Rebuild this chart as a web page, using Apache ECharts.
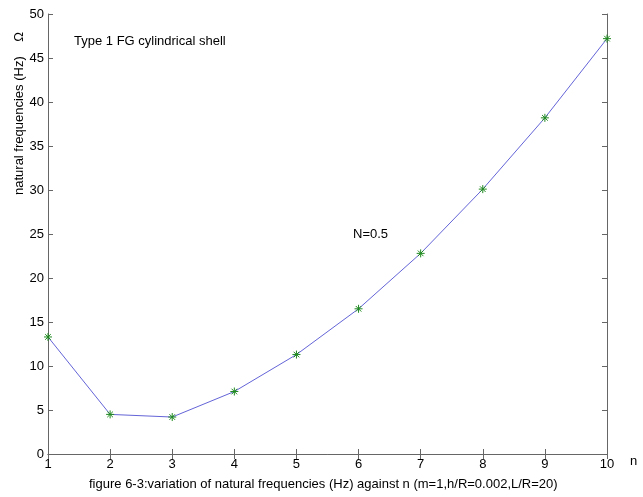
<!DOCTYPE html>
<html>
<head>
<meta charset="utf-8">
<script src="https://cdn.jsdelivr.net/npm/echarts@6/dist/echarts.min.js"></script>
<style>
html, body { margin: 0; padding: 0; background: #fff; }
#chart { width: 643px; height: 497px; }
</style>
</head>
<body>
<div id="chart"></div>
<script>
var myChart = echarts.init(document.getElementById('chart'), null, {renderer: 'canvas'});

// mode number n and natural frequency (Hz)
var nValues = [1, 2, 3, 4, 5, 6, 7, 8, 9, 10];
var freqValues = [13.3, 4.5, 4.2, 7.1, 11.3, 16.5, 22.8, 30.1, 38.2, 47.2];

var FONT = 'Liberation Sans';
var asterisk = 'path://M0 5L10 5M5 0L5 10M1.5 1.5L8.5 8.5M8.5 1.5L1.5 8.5';

var axisCommon = {
    type: 'value',
    axisLine: {show: true, lineStyle: {color: '#666', width: 1}},
    axisTick: {show: true, inside: true, length: 5, lineStyle: {color: '#666'}},
    splitLine: {show: false}
};

option = {
    animation: false,
    backgroundColor: '#fff',
    grid: {left: 48, right: 36, top: 14, bottom: 43},
    xAxis: [
        Object.assign({}, axisCommon, {
            min: 1, max: 10, interval: 1, position: 'bottom',
            axisLabel: {color: '#000', fontFamily: FONT, fontSize: 13, margin: 4}
        }),
        Object.assign({}, axisCommon, {
            min: 1, max: 10, interval: 1, position: 'top',
            axisLabel: {show: false}
        })
    ],
    yAxis: [
        Object.assign({}, axisCommon, {
            min: 0, max: 50, interval: 5, position: 'left',
            axisLabel: {color: '#000', fontFamily: FONT, fontSize: 13, margin: 4}
        }),
        Object.assign({}, axisCommon, {
            min: 0, max: 50, interval: 5, position: 'right',
            axisLabel: {show: false}
        })
    ],
    graphic: [
        {type: 'text', left: 74, top: 35,
         style: {text: 'Type 1 FG cylindrical shell', fill: '#000', font: '13px ' + FONT}},
        {type: 'text', left: 353, top: 228,
         style: {text: 'N=0.5', fill: '#000', font: '13px ' + FONT}},
        {type: 'text', left: 630, top: 455,
         style: {text: 'n', fill: '#000', font: '13px ' + FONT}},
        {type: 'text', left: 89, top: 478,
         style: {text: 'figure 6-3:variation of natural frequencies (Hz) against n (m=1,h/R=0.002,L/R=20)',
                 fill: '#000', font: '13px ' + FONT}},
        {type: 'text', x: 13, y: 195, rotation: Math.PI / 2,
         style: {text: 'natural frequencies (Hz)    \u03a9', fill: '#000', font: '13px ' + FONT}}
    ],
    series: [{
        type: 'line',
        data: nValues.map(function (n, i) { return [n, freqValues[i]]; }),
        lineStyle: {color: '#6464d8', width: 1},
        symbol: asterisk,
        symbolSize: 8,
        showAllSymbol: true,
        itemStyle: {color: 'transparent', borderColor: '#1f8a1f', borderWidth: 1}
    }]
};

myChart.setOption(option);
</script>
</body>
</html>
